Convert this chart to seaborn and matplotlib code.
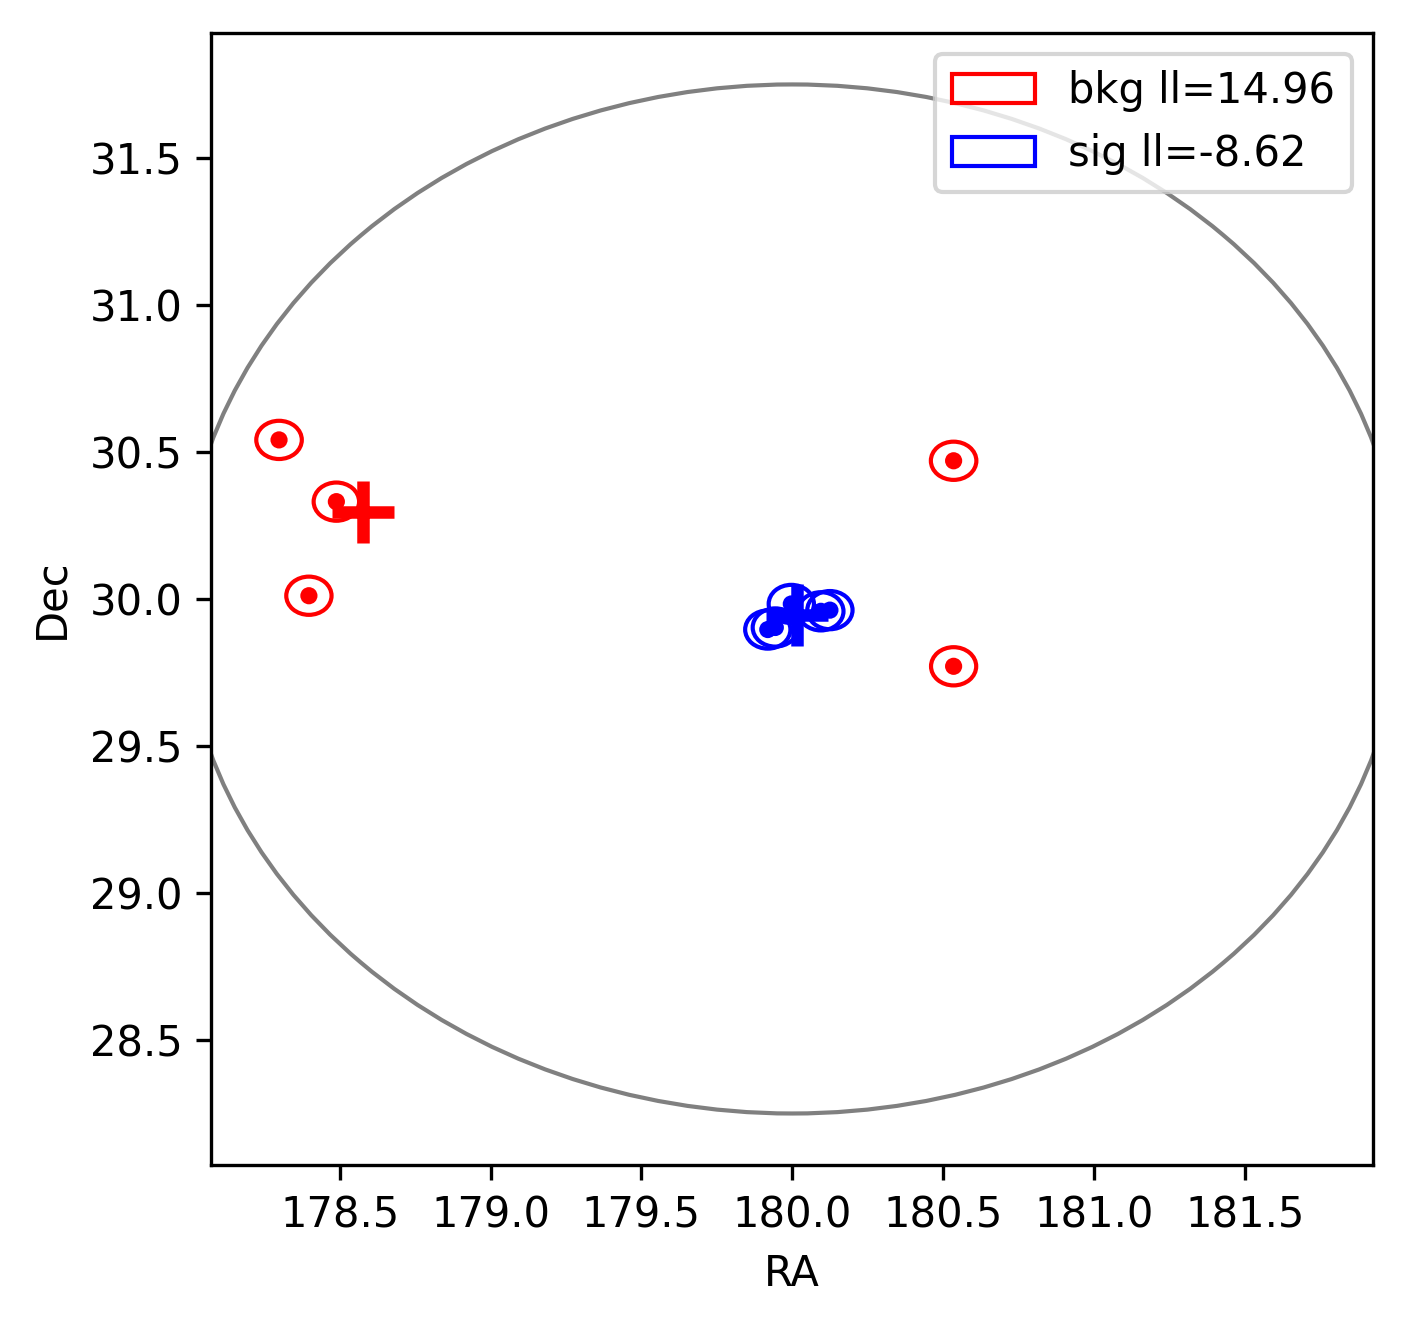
import numpy as np
import pandas as pd
import matplotlib
matplotlib.use('Agg')
import matplotlib.pyplot as plt
from matplotlib.patches import Ellipse
import seaborn as sns

# field of view
center_ra = 180.0
center_dec = 30.0
roi_radius = 1.75

# background events
bkg_ra = [178.299, 178.489, 178.398, 180.535, 180.535]
bkg_dec = [30.541, 30.331, 30.011, 30.470, 29.771]
bkg_err = [0.065, 0.065, 0.065, 0.065, 0.065]

# signal events
sig_ra = [179.919, 179.944, 179.997, 180.095, 180.125]
sig_dec = [29.896, 29.903, 29.983, 29.958, 29.962]
sig_err = [0.065, 0.065, 0.065, 0.065, 0.065]

# best fit positions
bkg_fit = (178.577, 30.295)
sig_fit = (180.017, 29.947)

bkg_ll = 14.96
sig_ll = -8.62

events = pd.DataFrame({
    'RA': bkg_ra + sig_ra,
    'Dec': bkg_dec + sig_dec,
    'err': bkg_err + sig_err,
    'kind': ['bkg'] * len(bkg_ra) + ['sig'] * len(sig_ra),
})
colors = {'bkg': 'red', 'sig': 'blue'}

sns.set_style('white')
plt.rcParams['font.family'] = ['DejaVu Sans']
plt.rcParams['text.color'] = 'black'
plt.rcParams['axes.labelcolor'] = 'black'
plt.rcParams['xtick.color'] = 'black'
plt.rcParams['ytick.color'] = 'black'

fig = plt.figure(figsize=(1406 / 300, 1325 / 300), dpi=300)
ax = fig.add_axes([0.1504, 0.1208, 0.8261, 0.8543])
for side in ax.spines.values():
    side.set_color('black')
    side.set_linewidth(0.8)
ax.tick_params(axis='both', which='major', direction='out', length=3.5,
               width=0.8, color='black', labelcolor='black', labelsize=10,
               bottom=True, left=True)

# region of interest
ax.add_patch(Ellipse((center_ra, center_dec),
                     2 * roi_radius / np.cos(np.radians(center_dec)),
                     2 * roi_radius, fill=False, ec='gray', lw=1))

# error circles around each event
handles = {}
for _, row in events.iterrows():
    e = Ellipse((row['RA'], row['Dec']),
                2 * row['err'] / np.cos(np.radians(row['Dec'])),
                2 * row['err'], fill=False, ec=colors[row['kind']], lw=1)
    ax.add_patch(e)
    handles.setdefault(row['kind'], e)

sns.scatterplot(data=events, x='RA', y='Dec', hue='kind', palette=colors,
                s=17, linewidth=0, legend=False, ax=ax, zorder=3)

ax.plot(*bkg_fit, marker='+', color='red', ms=15, mew=3, zorder=4)
ax.plot(*sig_fit, marker='+', color='blue', ms=15, mew=3, zorder=4)

ax.set_xlim(center_ra - 1.1 * roi_radius, center_ra + 1.1 * roi_radius)
ax.set_ylim(center_dec - 1.1 * roi_radius, center_dec + 1.1 * roi_radius)
ax.set_xticks([178.5, 179.0, 179.5, 180.0, 180.5, 181.0, 181.5])
ax.set_yticks([28.5, 29.0, 29.5, 30.0, 30.5, 31.0, 31.5])
ax.set_xlabel('RA', fontsize=10, color='black')
ax.set_ylabel('Dec', fontsize=10, color='black')

leg = ax.legend([handles['bkg'], handles['sig']],
                [f'bkg ll={bkg_ll:.2f}', f'sig ll={sig_ll:.2f}'],
                loc='upper right', fontsize=10)
for t in leg.get_texts():
    t.set_color('black')

fig.savefig('out.png', dpi=300)
